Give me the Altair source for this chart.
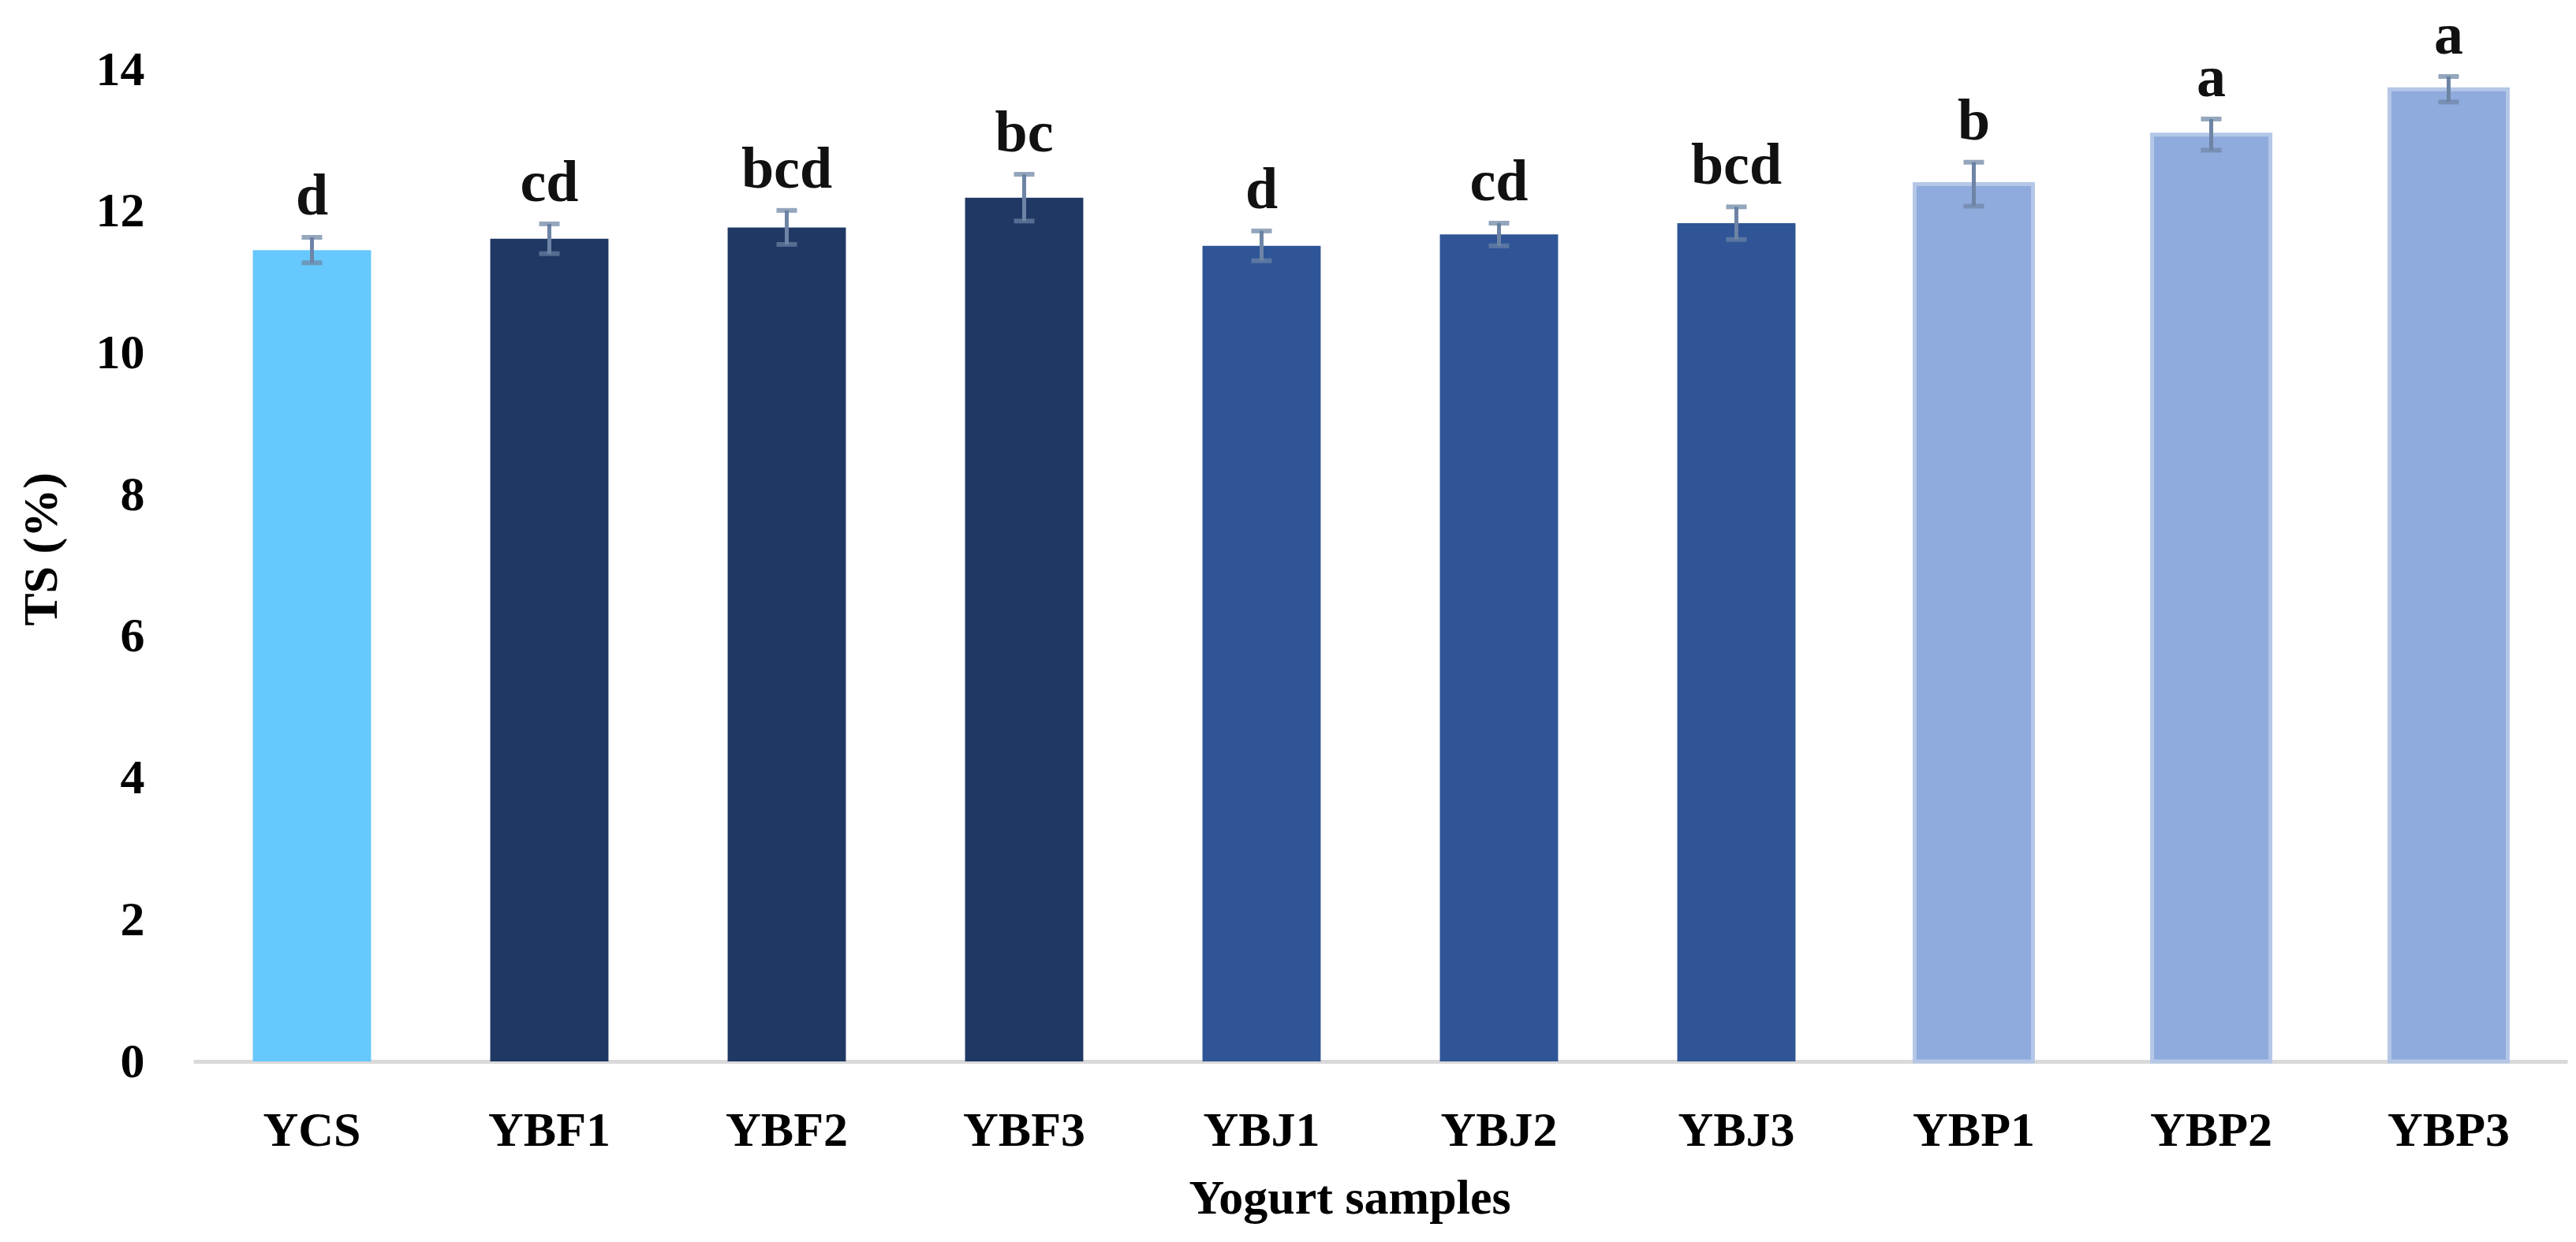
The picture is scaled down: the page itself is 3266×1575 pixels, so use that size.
import altair as alt
import pandas as pd

samples = ["YCS", "YBF1", "YBF2", "YBF3", "YBJ1", "YBJ2", "YBJ3", "YBP1", "YBP2", "YBP3"]
ts_mean = [11.45, 11.61, 11.77, 12.19, 11.51, 11.67, 11.83, 12.38, 13.08, 13.72]
ts_sd = [0.18, 0.21, 0.24, 0.33, 0.21, 0.16, 0.23, 0.31, 0.22, 0.18]
letters = ["d", "cd", "bcd", "bc", "d", "cd", "bcd", "b", "a", "a"]
groups = ["YCS", "YBF", "YBF", "YBF", "YBJ", "YBJ", "YBJ", "YBP", "YBP", "YBP"]

group_domain = ["YCS", "YBF", "YBJ", "YBP"]
group_colors = ["#66C8FC", "#203864", "#2F5597", "#8FAADC"]
y_ticks = [0, 2, 4, 6, 8, 10, 12, 14]

df = pd.DataFrame({
    "sample": samples,
    "mean": ts_mean,
    "sd": ts_sd,
    "letter": letters,
    "group": groups,
})
df["lo"] = df["mean"] - df["sd"]
df["hi"] = df["mean"] + df["sd"]

FONT = "Liberation Serif"

x_enc = alt.X(
    "sample:N",
    sort=samples,
    scale=alt.Scale(paddingInner=0.502, paddingOuter=0.251),
    axis=alt.Axis(
        title="Yogurt samples",
        labelAngle=0,
        ticks=False,
        grid=False,
        domainColor="#D9D9D9",
        domainWidth=5,
        labelFont=FONT,
        labelFontSize=62,
        labelFontWeight="bold",
        labelColor="#000000",
        labelBaseline="alphabetic",
        labelPadding=106,
        titleFont=FONT,
        titleFontSize=62,
        titleFontWeight="bold",
        titleColor="#000000",
        titleX=1466,
        titleY=192,
        titleBaseline="alphabetic",
        titleAlign="center",
    ),
)

y_scale = alt.Scale(domain=[0, 14], nice=False, zero=True)
y_axis = alt.Axis(
    title="TS (%)",
    values=y_ticks,
    format="d",
    domain=False,
    ticks=False,
    grid=False,
    labelFont=FONT,
    labelFontSize=62,
    labelFontWeight="bold",
    labelColor="#000000",
    labelPadding=62,
    labelBaseline="middle",
    titleFont=FONT,
    titleFontSize=62,
    titleFontWeight="bold",
    titleColor="#000000",
    titleAngle=270,
    titleX=-193,
    titleY=608,
    titleAlign="center",
    titleBaseline="middle",
)

base = alt.Chart(df)

bars = base.mark_bar(stroke="#B4C7E7").encode(
    x=x_enc,
    y=alt.Y("mean:Q", scale=y_scale, axis=y_axis),
    color=alt.Color("group:N", scale=alt.Scale(domain=group_domain, range=group_colors), legend=None),
    strokeWidth=alt.condition(alt.datum.group == "YBP", alt.value(5), alt.value(0)),
)

stems = base.mark_rule(color="#6D84A5", strokeWidth=5).encode(
    x=alt.X("sample:N", sort=samples),
    y=alt.Y("lo:Q", scale=y_scale),
    y2="hi:Q",
)

caps_hi = base.mark_tick(color="#66809F", size=26, thickness=6).encode(
    x=alt.X("sample:N", sort=samples),
    y=alt.Y("hi:Q", scale=y_scale),
)
caps_lo = base.mark_tick(color="#6D84A5", size=26, thickness=6).encode(
    x=alt.X("sample:N", sort=samples),
    y=alt.Y("lo:Q", scale=y_scale),
)

labels = base.mark_text(
    font=FONT, fontSize=74, fontWeight="bold", color="#111111",
    baseline="alphabetic", align="center", dy=-29,
).encode(
    x=alt.X("sample:N", sort=samples),
    y=alt.Y("hi:Q", scale=y_scale),
    text="letter:N",
)

chart = (
    alt.layer(bars, stems, caps_hi, caps_lo, labels)
    .properties(
        width=3010,
        height=1258,
        padding={"left": 237, "top": 80, "right": 3, "bottom": 225},
        autosize=alt.AutoSizeParams(type="none"),
        background="#FFFFFF",
    )
    .configure_view(strokeWidth=0)
)

chart.save("out.html", embed_options={"renderer": "svg", "actions": False})
